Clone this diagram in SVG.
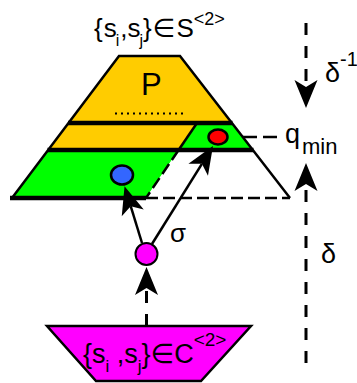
<svg xmlns="http://www.w3.org/2000/svg" width="357" height="383" viewBox="0 0 357 383">
<style>
text{font-family:"Liberation Sans",Arial,"DejaVu Sans",sans-serif;fill:#000}
.thin{stroke:#000;stroke-width:2.5;fill:none}
.thick{stroke:#000;stroke-width:4.5;fill:none}
.dash{stroke:#000;stroke-width:2.5;fill:none;stroke-dasharray:12 5}
.vdash{stroke:#000;stroke-width:3;fill:none;stroke-dasharray:12 11}
.conn{stroke:#000;stroke-width:2.5;fill:none}
</style>
<defs>
<marker id="ah" viewBox="-8 -12 30 24" refX="0" refY="0" markerWidth="30" markerHeight="24" markerUnits="userSpaceOnUse" orient="auto">
<path d="M21,0 L-7,-11.5 L0,0 L-7,11.5 Z" fill="#000"/>
</marker>
</defs>
<rect width="357" height="383" fill="#fff"/>

<g id="pyramid">
<polygon points="119,56 180,56 252.8,150 48.2,150" fill="#ffcc00"/>
<polygon points="197,123 231.9,123 252.8,150 178.6,150" fill="#00ff00"/>
<polygon points="48.2,150 178.6,150 146,198 12,198" fill="#00ff00"/>
<polygon points="178.6,150 252.8,150 290,198 146,198" fill="#fff"/>
<line class="thin" x1="197" y1="123" x2="178.6" y2="150" stroke-width="1.5"/>
<line class="dash" x1="178.6" y1="150" x2="146" y2="198"/>
<line class="dash" x1="146" y1="198" x2="290" y2="198"/>
<polyline class="thin" points="12,198 119,56 180,56 290,198"/>
<line class="thick" x1="68" y1="123" x2="232.5" y2="123"/>
<line class="thick" x1="47.5" y1="150" x2="253.5" y2="150"/>
<line class="thick" x1="10" y1="198" x2="146" y2="198"/>
<line x1="115" y1="113.5" x2="184" y2="113.5" stroke="#000" stroke-width="2" stroke-dasharray="2 4"/>
<text x="141" y="95" font-size="31">P</text>
</g>

<g id="top-label">
<text x="94" y="37" font-size="26">{<tspan dx="1">s</tspan><tspan dx="-1" dy="9" font-size="16">i</tspan><tspan dx="1" dy="-9">,</tspan>s<tspan dx="-1" dy="9" font-size="16">j</tspan><tspan dy="-9">}</tspan><tspan dx="1">∈</tspan><tspan dx="1">S</tspan><tspan dy="-12" font-size="18">&lt;2&gt;</tspan></text>
</g>

<g id="red-dot">
<ellipse cx="218" cy="137" rx="9.5" ry="7.5" fill="#ff0000" stroke="#000" stroke-width="2.5"/>
</g>
<g id="blue-dot">
<ellipse cx="122" cy="175" rx="11" ry="9.5" fill="#3366ff" stroke="#000" stroke-width="2.5"/>
</g>
<g id="qmin">
<line x1="243" y1="137" x2="278" y2="137" stroke="#000" stroke-width="2.5" stroke-dasharray="14 6"/>
<text x="285" y="143" font-size="27">q</text>
<text x="302" y="154" font-size="22">min</text>
</g>

<g id="sigma-node">
<circle cx="146.5" cy="254" r="11" fill="#ff00ff" stroke="#000" stroke-width="2"/>
<text x="170" y="242" font-size="26">σ</text>
</g>

<g id="bottom-node">
<polygon points="47,326 251,326 201,381 96,381" fill="#ff00ff" stroke="#000" stroke-width="2.5"/>
<text x="83" y="363" font-size="27">{s<tspan dy="9" font-size="17">i</tspan><tspan dy="-9"> ,</tspan>s<tspan dy="9" font-size="17">j</tspan><tspan dy="-9">}</tspan>∈C<tspan dy="-17" font-size="19">&lt;2&gt;</tspan></text>
</g>

<g id="delta-inv">
<line class="vdash" x1="306" y1="23" x2="306" y2="87" marker-end="url(#ah)"/>
<text x="325" y="82" font-size="27">δ</text>
<text x="340" y="66" font-size="20">-1</text>
</g>
<g id="delta">
<line class="vdash" x1="306" y1="363" x2="306" y2="184" marker-end="url(#ah)"/>
<text x="321" y="263" font-size="27">δ</text>
</g>

<g id="connectors">
<line class="vdash" x1="146.5" y1="326" x2="146.5" y2="288" stroke-width="2.5" stroke-dasharray="11 4" marker-end="url(#ah)"/>
<line class="conn" x1="142" y1="243" x2="130.7" y2="206.2" marker-end="url(#ah)"/>
<line class="conn" x1="152" y1="244" x2="201.9" y2="163.8" marker-end="url(#ah)"/>
</g>
</svg>
